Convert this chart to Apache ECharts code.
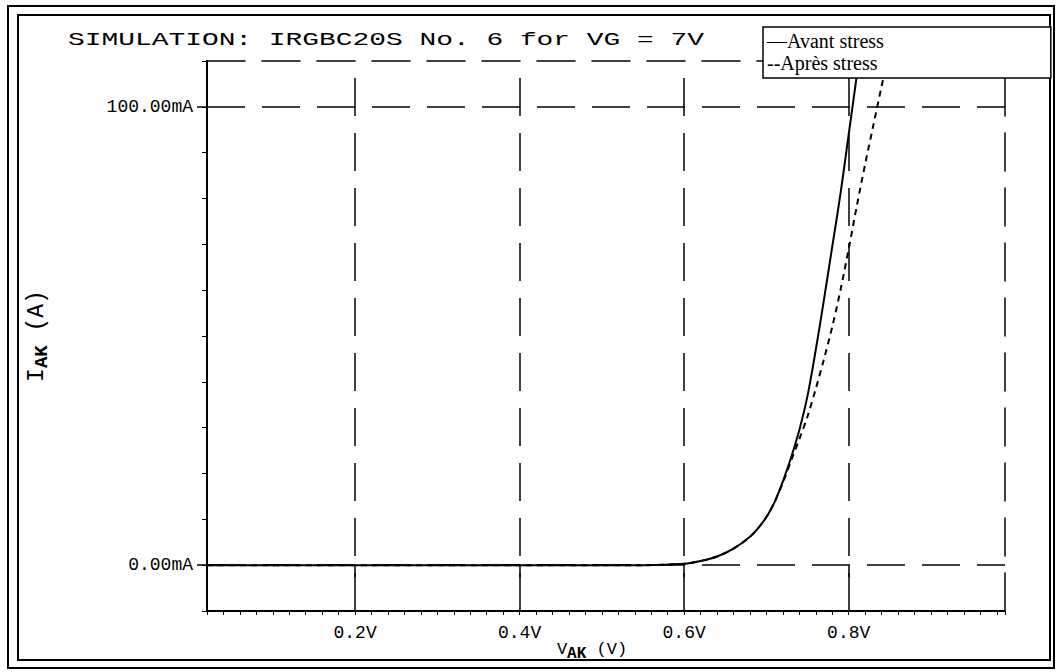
<!DOCTYPE html>
<html>
<head>
<meta charset="utf-8">
<script src="https://cdn.jsdelivr.net/npm/echarts@6/dist/echarts.min.js"></script>
<style>html,body{margin:0;padding:0;background:#fff;}#c{width:1062px;height:672px;}</style>
</head>
<body>
<div id="c"></div>
<script>
// ---- data (V in volts, I in mA) ----
const seriesNames = ['Avant stress', 'Après stress'];
const legendPrefix = {'Avant stress': '—', 'Après stress': '--'};
const voltageAvant = [0.02, 0.1, 0.2, 0.3, 0.4, 0.5, 0.55, 0.6, 0.62, 0.64, 0.66, 0.68, 0.69, 0.70, 0.71, 0.72, 0.73, 0.74, 0.75, 0.76, 0.77, 0.78, 0.79, 0.80, 0.81, 0.82];
const currentAvant = [0, 0, 0, 0, 0, 0, 0, 0.3, 0.9, 1.9, 3.6, 6.2, 8.1, 10.5, 13.8, 18.3, 23.5, 29.5, 37, 47, 58, 69.5, 81, 94, 107, 120];
const voltageApres = [0.02, 0.1, 0.2, 0.3, 0.4, 0.5, 0.55, 0.6, 0.62, 0.64, 0.66, 0.68, 0.69, 0.70, 0.71, 0.72, 0.73, 0.74, 0.75, 0.76, 0.77, 0.78, 0.79, 0.80, 0.81, 0.82, 0.83, 0.84, 0.85];
const currentApres = [0, 0, 0, 0, 0, 0, 0, 0.3, 0.9, 1.9, 3.6, 6.2, 8.1, 10.5, 13.8, 18.0, 22.8, 27.5, 32.5, 38.5, 45, 52, 60, 69, 78.5, 87.5, 96, 104.5, 113];
const xMajorTicks = [0.2, 0.4, 0.6, 0.8];
const yMajorTicks = [0, 100];
const yTickLabels = {0: '0.00mA', 100: '100.00mA'};
const titleText = 'SIMULATION: IRGBC20S No. 6 for VG = 7V';

const pairs = (xs, ys) => xs.map((x, i) => [x, ys[i]]);
const MONO = '"Liberation Mono", "DejaVu Sans Mono", monospace';
const SERIF = '"Liberation Serif", "DejaVu Serif", serif';
const DASH = [38, 17];

const chart = echarts.init(document.getElementById('c'), null, {renderer: 'svg'});
const X_MIN = 0.02, X_MAX = 0.99, Y_MIN = -10, Y_MAX = 110;

chart.setOption({
  animation: false,
  backgroundColor: '#fff',
  graphic: [
    {type: 'rect', shape: {x: 8, y: 6, width: 1046, height: 662}, style: {fill: 'none', stroke: '#000', lineWidth: 2}, silent: true},
    {type: 'rect', shape: {x: 18, y: 15, width: 1032, height: 645}, style: {fill: 'none', stroke: '#000', lineWidth: 2}, silent: true},
    {type: 'text', x: 68, y: 40, scaleX: 1.55, style: {text: titleText, font: '18px ' + MONO, fill: '#000', textVerticalAlign: 'middle'}, silent: true}
  ],
  legend: {
    data: seriesNames.map(n => ({name: n, icon: 'none'})),
    icon: 'none',
    orient: 'vertical',
    left: 763, top: 27,
    itemWidth: 0, itemHeight: 0, itemGap: 0,
    padding: [3, 167, 4, 4],
    backgroundColor: '#fff', borderColor: '#000', borderWidth: 1.5,
    selectedMode: false,
    z: 10,
    formatter: n => legendPrefix[n] + n,
    textStyle: {fontFamily: SERIF, fontSize: 20, lineHeight: 22, color: '#000', padding: [0, 0, 0, -5]}
  },
  grid: {left: 207, right: 57, top: 61, bottom: 61, containLabel: false},
  xAxis: [
    {
      type: 'value', position: 'bottom', min: X_MIN, max: X_MAX, interval: 0.02,
      name: 'V{s|AK} (V)', nameLocation: 'middle', nameGap: 26, nameMoveOverlap: false,
      nameTextStyle: {fontFamily: MONO, fontSize: 17, color: '#000', padding: [0, 28, 0, 0],
        rich: {s: {fontFamily: MONO, fontSize: 16, fontWeight: 'bold', color: '#000', padding: [9, 0, 0, 0], verticalAlign: 'bottom'}}},
      axisLine: {show: true, onZero: false, lineStyle: {color: '#000', width: 2}},
      axisTick: {show: true, inside: false, length: 4, lineStyle: {color: '#000', width: 1}},
      axisLabel: {margin: 13, fontFamily: MONO, fontSize: 18, color: '#000',
        formatter: v => { const k = Math.round(v * 100); return (k % 20 === 0 && k > 0 && k < 100) ? (k / 100).toFixed(1) + 'V' : ''; }},
      splitLine: {show: false}
    },
    {
      type: 'value', position: 'bottom', min: X_MIN, max: X_MAX,
      axisLine: {show: false},
      axisTick: {show: true, inside: false, length: 12, customValues: xMajorTicks, lineStyle: {color: '#000', width: 1.5}},
      axisLabel: {show: false}, splitLine: {show: false}
    },
    {
      type: 'value', position: 'top', min: X_MIN, max: X_MAX,
      axisLine: {show: true, onZero: false, lineStyle: {color: '#000', width: 1.5, type: DASH}},
      axisTick: {show: false}, axisLabel: {show: false}, splitLine: {show: false}
    }
  ],
  yAxis: [
    {
      type: 'value', position: 'left', min: Y_MIN, max: Y_MAX, interval: 10,
      name: 'I{s|AK} (A)', nameLocation: 'middle', nameGap: 156, nameRotate: 90, nameMoveOverlap: false,
      nameTextStyle: {fontFamily: MONO, fontSize: 23, color: '#000',
        rich: {s: {fontFamily: MONO, fontSize: 19, fontWeight: 'bold', color: '#000', padding: [10, 0, 0, 0], verticalAlign: 'bottom'}}},
      axisLine: {show: true, onZero: false, lineStyle: {color: '#000', width: 2}},
      axisTick: {show: true, inside: false, length: 5, lineStyle: {color: '#000', width: 1}},
      axisLabel: {margin: 14, fontFamily: MONO, fontSize: 18, color: '#000',
        formatter: v => { const k = Math.round(v); return yTickLabels[k] !== undefined && Math.abs(v - k) < 1e-6 ? yTickLabels[k] : ''; }},
      splitLine: {show: false}
    },
    {
      type: 'value', position: 'left', min: Y_MIN, max: Y_MAX,
      axisLine: {show: false},
      axisTick: {show: true, inside: false, length: 10, customValues: yMajorTicks, lineStyle: {color: '#000', width: 1.5}},
      axisLabel: {show: false}, splitLine: {show: false}
    },
    {
      type: 'value', position: 'right', min: Y_MIN, max: Y_MAX,
      axisLine: {show: true, onZero: false, lineStyle: {color: '#000', width: 1.5, type: DASH}},
      axisTick: {show: false}, axisLabel: {show: false}, splitLine: {show: false}
    }
  ],
  series: [
    {
      name: seriesNames[0], type: 'line', xAxisIndex: 0, yAxisIndex: 0,
      data: pairs(voltageAvant, currentAvant), smooth: 0.3, symbol: 'none', clip: true,
      lineStyle: {color: '#000', width: 2}, itemStyle: {color: '#000'},
      markLine: {
        silent: true, symbol: ['none', 'none'], label: {show: false},
        lineStyle: {color: '#000', width: 1.5, type: DASH},
        data: xMajorTicks.map(v => ({xAxis: v})).concat(yMajorTicks.map(v => ({yAxis: v})))
      }
    },
    {
      name: seriesNames[1], type: 'line', xAxisIndex: 0, yAxisIndex: 0,
      data: pairs(voltageApres, currentApres), smooth: 0.3, symbol: 'none', clip: true,
      lineStyle: {color: '#000', width: 2, type: [6, 5]}, itemStyle: {color: '#000'}
    }
  ]
});
</script>
</body>
</html>
